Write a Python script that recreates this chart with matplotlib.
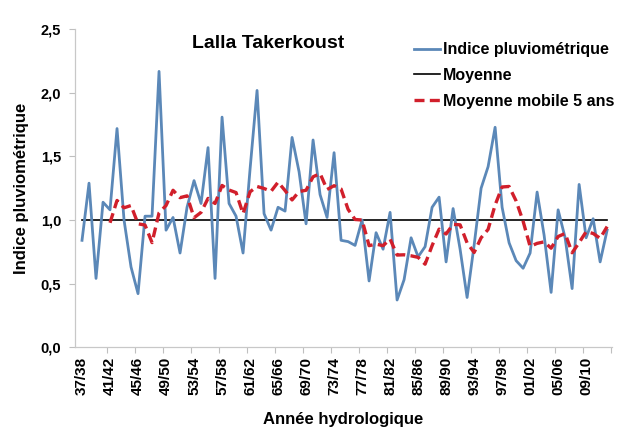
import matplotlib
matplotlib.use("Agg")
import matplotlib.pyplot as plt
import numpy as np
import pandas as pd
from matplotlib.ticker import FixedLocator, NullFormatter

# Hydrological years (Sept–Aug) at the Lalla Takerkoust station
years = [
    "37/38", "38/39", "39/40", "40/41", "41/42", "42/43", "43/44", "44/45",
    "45/46", "46/47", "47/48", "48/49", "49/50", "50/51", "51/52", "52/53",
    "53/54", "54/55", "55/56", "56/57", "57/58", "58/59", "59/60", "60/61",
    "61/62", "62/63", "63/64", "64/65", "65/66", "66/67", "67/68", "68/69",
    "69/70", "70/71", "71/72", "72/73", "73/74", "74/75", "75/76", "76/77",
    "77/78", "78/79", "79/80", "80/81", "81/82", "82/83", "83/84", "84/85",
    "85/86", "86/87", "87/88", "88/89", "89/90", "90/91", "91/92", "92/93",
    "93/94", "94/95", "95/96", "96/97", "97/98", "98/99", "99/00", "00/01",
    "01/02", "02/03", "03/04", "04/05", "05/06", "06/07", "07/08", "08/09",
    "09/10", "10/11", "11/12", "12/13",
]

# Rainfall index (annual rainfall / mean rainfall)
rain_index = [
    0.84, 1.29, 0.54, 1.14, 1.08, 1.72, 1.00, 0.63, 0.42, 1.03,
    1.03, 2.17, 0.92, 1.02, 0.74, 1.10, 1.31, 1.13, 1.57, 0.54,
    1.81, 1.13, 1.03, 0.74, 1.40, 2.02, 1.05, 0.92, 1.10, 1.07,
    1.65, 1.38, 0.97, 1.63, 1.20, 1.02, 1.53, 0.84, 0.83, 0.80,
    1.00, 0.52, 0.90, 0.77, 1.06, 0.37, 0.53, 0.86, 0.71, 0.79,
    1.10, 1.18, 0.67, 1.09, 0.77, 0.39, 0.80, 1.25, 1.42, 1.73,
    1.10, 0.82, 0.68, 0.62, 0.74, 1.22, 0.88, 0.43, 1.08, 0.86,
    0.46, 1.28, 0.86, 1.01, 0.67, 0.92,
]

mean_level = 1.0
window = 5

label_years = years[::4]
y_ticks = [0.0, 0.5, 1.0, 1.5, 2.0, 2.5]
y_tick_labels = ["0,0", "0,5", "1,0", "1,5", "2,0", "2,5"]

x = np.arange(len(years))
series = pd.Series(rain_index, index=x)
moving = series.rolling(window).mean()

plt.rcParams["font.family"] = ["Liberation Sans", "DejaVu Sans"]

fig = plt.figure(figsize=(6.32, 4.33), dpi=100)
ax = fig.add_axes([0.1187, 0.1986, 0.8497, 0.7333])

blue = "#5B88B8"
red = "#D11F2B"

ax.plot(x, series.values, color=blue, lw=2.0, label="Indice pluviométrique",
        solid_joinstyle="round", zorder=3)
ax.plot([x[0], x[-1]], [mean_level, mean_level], color="black", lw=1.2,
        label="Moyenne", zorder=2)
ax.plot(x, moving.values, color=red, lw=2.4, dashes=(3.0, 1.6),
        label="Moyenne mobile 5 ans", zorder=4)

ax.set_xlim(-1.0, 75.7)
ax.set_ylim(0, 2.5)

# category labels every 4 years, tick marks on category boundaries
ax.xaxis.set_major_locator(FixedLocator(x[::4]))
ax.set_xticklabels(label_years, rotation=90, fontsize=11, fontweight="bold",
                   family=["Liberation Sans Narrow", "Liberation Sans"])
ax.xaxis.set_minor_locator(FixedLocator(np.arange(3.5, 76, 4)))
ax.xaxis.set_minor_formatter(NullFormatter())
ax.tick_params(axis="x", which="major", length=0, pad=7)
ax.tick_params(axis="x", which="minor", length=4, color="#BFBFBF", width=0.8)

ax.set_yticks(y_ticks)
ax.set_yticklabels(y_tick_labels, fontsize=10.5, fontweight="bold")
ax.tick_params(axis="y", length=4, color="#BFBFBF", width=0.8, pad=6)

for side in ("top", "right"):
    ax.spines[side].set_visible(False)
for side in ("left", "bottom"):
    ax.spines[side].set_color("#C8C8C8")
    ax.spines[side].set_linewidth(0.9)

ax.set_xlabel("Année hydrologique", fontsize=12, fontweight="bold")
ax.xaxis.set_label_coords(0.5, -0.205)
ax.set_ylabel("Indice pluviométrique", fontsize=12, fontweight="bold", labelpad=8)

ax.text(0.36, 0.955, "Lalla Takerkoust", transform=ax.transAxes,
        ha="center", va="center", fontsize=14, fontweight="bold")

leg = ax.legend(loc="upper left", bbox_to_anchor=(0.62, 0.98), frameon=False,
                prop={"weight": "bold", "size": 11.5}, handlelength=1.6,
                handletextpad=0.2, labelspacing=0.68, borderaxespad=0)

fig.savefig("out.png", dpi=100, facecolor="white")
